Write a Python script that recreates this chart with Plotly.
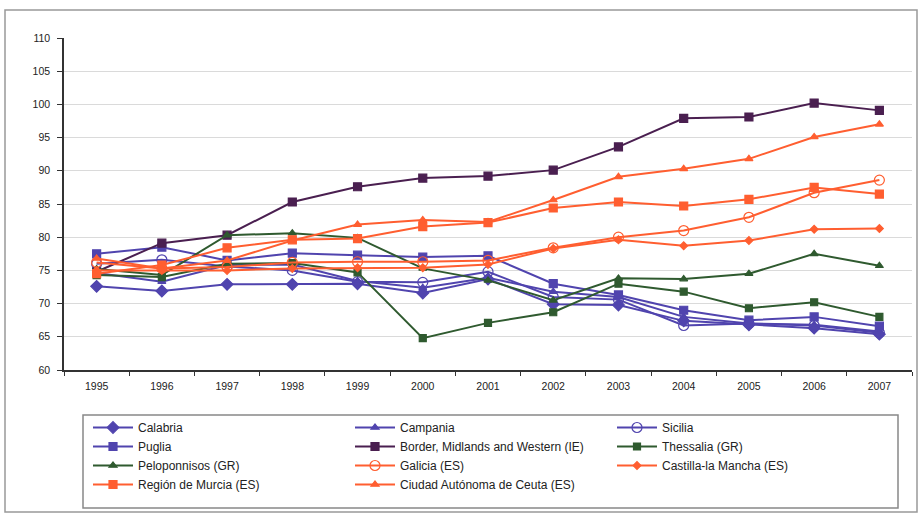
import plotly.graph_objects as go

years = [str(y) for y in range(1995, 2008)]

calabria = [72.6, 71.9, 72.9, 72.9, 73.0, 71.6, 73.7, 69.9, 69.8, 67.4, 66.8, 66.3, 65.4]
campania = [74.6, 73.3, 75.8, 75.9, 73.4, 72.4, 73.9, 71.8, 71.0, 68.0, 67.0, 66.8, 65.8]
sicilia = [76.0, 76.6, 75.6, 75.0, 73.3, 73.2, 74.8, 71.0, 70.6, 66.7, 67.0, 66.7, 65.6]
puglia = [77.5, 78.5, 76.5, 77.6, 77.3, 77.0, 77.2, 73.0, 71.3, 69.0, 67.5, 68.0, 66.6]
border = [74.8, 79.1, 80.3, 85.3, 87.6, 88.9, 89.2, 90.1, 93.6, 97.9, 98.1, 100.2, 99.1]
thessalia = [74.3, 74.0, 76.0, 76.1, 74.7, 64.8, 67.1, 68.7, 73.0, 71.8, 69.3, 70.2, 68.0]
peloponnisos = [75.2, 74.3, 80.3, 80.6, 79.9, 75.3, 73.5, 70.5, 73.8, 73.7, 74.5, 77.5, 75.7]
galicia = [76.2, 75.3, 75.5, 76.2, 76.3, 76.3, 76.5, 78.4, 80.0, 81.0, 83.0, 86.7, 88.6]
castilla = [75.0, 75.0, 75.0, 75.3, 75.4, 75.4, 75.9, 78.3, 79.6, 78.7, 79.5, 81.2, 81.3]
murcia = [74.5, 75.8, 78.4, 79.6, 79.8, 81.6, 82.2, 84.4, 85.3, 84.7, 85.7, 87.5, 86.5]
ceuta = [76.8, 75.3, 76.5, 79.5, 81.9, 82.6, 82.3, 85.6, 89.1, 90.3, 91.8, 95.1, 97.0]

names = ["Calabria", "Campania", "Sicilia", "Puglia",
         "Border, Midlands and Western (IE)", "Thessalia (GR)",
         "Peloponnisos (GR)", "Galicia (ES)", "Castilla-la Mancha (ES)",
         "Región de Murcia (ES)", "Ciudad Autónoma de Ceuta (ES)"]
series = [calabria, campania, sicilia, puglia, border, thessalia,
          peloponnisos, galicia, castilla, murcia, ceuta]

BLUE = "#5044AE"
PURPLE = "#4A1F50"
GREEN = "#2F5A2F"
ORANGE = "#FF5E30"
styles = [
    (BLUE, "diamond", 9),
    (BLUE, "triangle-up", 7),
    (BLUE, "circle-open", 10),
    (BLUE, "square", 8),
    (PURPLE, "square", 8),
    (GREEN, "square", 7),
    (GREEN, "triangle-up", 7),
    (ORANGE, "circle-open", 10),
    (ORANGE, "diamond", 6),
    (ORANGE, "square", 8),
    (ORANGE, "triangle-up", 7),
]

fig = go.Figure()
for name, vals, (col, sym, size) in zip(names, series, styles):
    fig.add_trace(go.Scatter(
        x=years, y=vals, name=name, mode="lines+markers",
        line=dict(color=col, width=2),
        marker=dict(symbol=sym, size=size, color=col,
                    line=dict(color=col, width=1.2)),
    ))

L, R, T, B = 64, 6, 38, 143
W, H = 918, 513
pw, ph = W - L - R, H - T - B

def px(x):
    return (x - L) / pw

def py(y):
    return (H - B - y) / ph

fig.update_layout(
    width=W, height=H,
    margin=dict(l=L, r=R, t=T, b=B, autoexpand=False),
    paper_bgcolor="white", plot_bgcolor="white",
    font=dict(family="Liberation Sans, Arial, sans-serif", color="#222"),
    showlegend=True,
    legend=dict(
        orientation="h", x=px(88), y=py(413), xanchor="left", yanchor="top",
        entrywidth=207, entrywidthmode="pixels", itemwidth=40,
        font=dict(size=12, color="#222"), bgcolor="rgba(0,0,0,0)",
        tracegroupgap=0, traceorder="normal",
    ),
    xaxis=dict(
        type="category", range=[-0.5, 12.5], tickson="boundaries",
        ticks="outside", ticklen=4, tickcolor="#333",
        showline=True, linecolor="#333", linewidth=1.5,
        showgrid=False, tickfont=dict(size=10.5), ticklabelstandoff=6,
        fixedrange=True,
    ),
    yaxis=dict(
        range=[60, 110], dtick=5, tick0=60, ticks="outside", ticklen=5,
        tickcolor="#333", showline=True, linecolor="#333", linewidth=1.5,
        showgrid=True, gridcolor="#DADADA", gridwidth=1,
        tickfont=dict(size=10.5), ticklabelstandoff=5, zeroline=False,
    ),
    shapes=[
        dict(type="rect", xref="paper", yref="paper",
             x0=px(83), x1=px(898), y0=py(508), y1=py(415),
             line=dict(color="#888", width=1.5), fillcolor="rgba(0,0,0,0)"),
        dict(type="rect", xref="paper", yref="paper",
             x0=px(5), x1=px(917), y0=py(512), y1=py(10),
             line=dict(color="#999", width=1.5), fillcolor="rgba(0,0,0,0)"),
    ],
)

fig.write_html("out.html", config={"displayModeBar": False},
               post_script="document.body.style.margin='0';document.body.style.padding='0';")
